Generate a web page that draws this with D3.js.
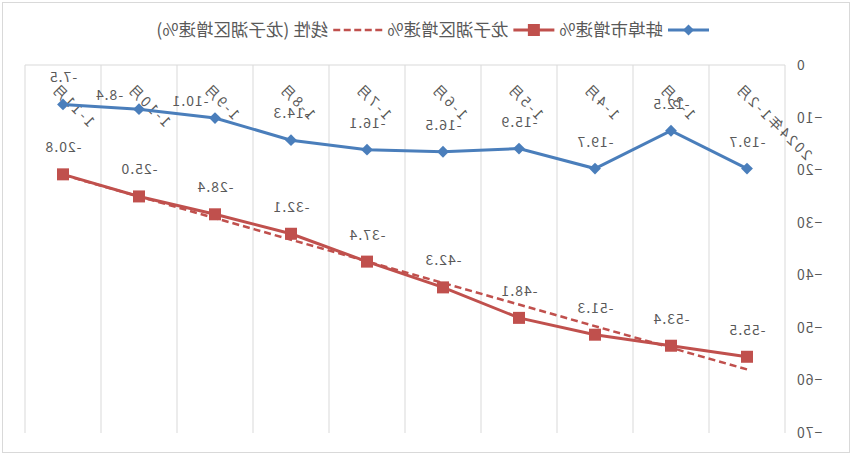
<!DOCTYPE html>
<html>
<head>
<meta charset="utf-8">
<script src="https://cdn.jsdelivr.net/npm/d3@7"></script>
<style>
  body { margin: 0; background: #fff; }
  svg { display: block; font-family: "Noto Sans CJK SC", "Noto Sans", sans-serif; }
</style>
</head>
<body>
<div id="chart"></div>
<script>
const categories = ["2024年1-2月", "1-3月", "1-4月", "1-5月", "1-6月", "1-7月", "1-8月", "1-9月", "1-10月", "1-11月"];
const bengbu = [-19.7, -12.5, -19.7, -15.9, -16.5, -16.1, -14.3, -10.1, -8.4, -7.5];
const longzihu = [-55.5, -53.4, -51.3, -48.1, -42.3, -37.4, -32.1, -28.4, -25.0, -20.8];
// linear trendline ends (first and last category)
const trendEnds = [-57.9, -20.9];
const yTicks = [0, -10, -20, -30, -40, -50, -60, -70];
const seriesNames = ["蚌埠市增速%", "龙子湖区增速%", "线性 (龙子湖区增速%)"];

const W = 852, H = 456;
const blue = "#4a7ebb", red = "#c0504d", grey = "#595959", grid = "#d9d9d9";
const plot = { left: 67, right: 827, top: 65, bottom: 433 };

const svg = d3.select("#chart").append("svg")
  .attr("width", W)
  .attr("height", H);

// the reference is a mirror image, so the whole drawing is flipped
const root = svg.append("g")
  .attr("transform", `translate(${W},0) scale(-1,1)`);

root.append("rect")
  .attr("x", 2.5).attr("y", 2.5)
  .attr("width", W - 5).attr("height", H - 6)
  .attr("fill", "#fff")
  .attr("stroke", grid);

const x = d3.scaleBand()
  .domain(categories)
  .range([plot.left, plot.right]);

const y = d3.scaleLinear()
  .domain([-70, 0])
  .range([plot.bottom, plot.top]);

const cx = d => x(d) + x.bandwidth() / 2;

// vertical gridlines at category boundaries
const bounds = categories.map(c => x(c)).concat([plot.right]);
root.append("g").selectAll("line")
  .data(bounds)
  .join("line")
  .attr("x1", d => d).attr("x2", d => d)
  .attr("y1", plot.top).attr("y2", plot.bottom)
  .attr("stroke", grid);

// category axis line at 0
root.append("line")
  .attr("x1", plot.left).attr("x2", plot.right)
  .attr("y1", y(0)).attr("y2", y(0))
  .attr("stroke", grid);

// y axis labels
const yAxis = root.append("g")
  .attr("transform", `translate(${plot.left},0)`)
  .call(d3.axisLeft(y).tickValues(yTicks).tickSize(0).tickPadding(11).tickFormat(d3.format("d")));
yAxis.select(".domain").remove();
yAxis.selectAll("text")
  .attr("fill", grey)
  .style("font-size", "14px")
  .style("letter-spacing", "1px")
  .style("font-family", "\"Noto Sans CJK SC\", sans-serif");

// rotated category labels below the top axis
root.append("g").selectAll("text")
  .data(categories)
  .join("text")
  .attr("transform", d => `translate(${cx(d) + 13},${plot.top + 24}) rotate(-45)`)
  .attr("text-anchor", "end")
  .attr("fill", grey)
  .style("font-size", "14px")
  .style("letter-spacing", "2.5px")
  .text(d => d);

// trendline
root.append("line")
  .attr("x1", cx(categories[0]))
  .attr("y1", y(trendEnds[0]))
  .attr("x2", cx(categories[categories.length - 1]))
  .attr("y2", y(trendEnds[1]))
  .attr("stroke", red)
  .attr("stroke-width", 2.5)
  .attr("stroke-dasharray", "7,4");

const line = d3.line()
  .x(d => cx(d.cat))
  .y(d => y(d.v));

const bluePts = categories.map((c, i) => ({ cat: c, v: bengbu[i] }));
const redPts = categories.map((c, i) => ({ cat: c, v: longzihu[i] }));

root.append("path")
  .attr("d", line(redPts))
  .attr("fill", "none")
  .attr("stroke", red)
  .attr("stroke-width", 3);

root.append("g").selectAll("rect")
  .data(redPts)
  .join("rect")
  .attr("x", d => cx(d.cat) - 6)
  .attr("y", d => y(d.v) - 6)
  .attr("width", 12).attr("height", 12)
  .attr("fill", red);

root.append("path")
  .attr("d", line(bluePts))
  .attr("fill", "none")
  .attr("stroke", blue)
  .attr("stroke-width", 3);

root.append("g").selectAll("path")
  .data(bluePts)
  .join("path")
  .attr("transform", d => `translate(${cx(d.cat)},${y(d.v)}) rotate(45)`)
  .attr("d", d3.symbol().type(d3.symbolSquare).size(70))
  .attr("fill", blue);

// data labels; two blue ones sit beside their point to clear the axis labels
const nudge = { 7: [25, -12], 8: [30, -9] };
root.append("g").selectAll("text")
  .data(bluePts)
  .join("text")
  .attr("x", (d, i) => cx(d.cat) + (nudge[i] ? nudge[i][0] : 0))
  .attr("y", (d, i) => y(d.v) + (nudge[i] ? nudge[i][1] : -22))
  .attr("text-anchor", "middle")
  .attr("fill", grey)
  .style("font-size", "14px")
  .style("letter-spacing", "1px")
  .text(d => d.v.toFixed(1));

root.append("g").selectAll("text")
  .data(redPts)
  .join("text")
  .attr("x", d => cx(d.cat))
  .attr("y", d => y(d.v) - 22)
  .attr("text-anchor", "middle")
  .attr("fill", grey)
  .style("font-size", "14px")
  .style("letter-spacing", "1px")
  .text(d => d.v.toFixed(1));

// legend
const legend = root.append("g").attr("transform", "translate(0,30)");
const items = [
  { name: seriesNames[0], color: blue, marker: "diamond" },
  { name: seriesNames[1], color: red, marker: "square" },
  { name: seriesNames[2], color: red, marker: "dash" }
];
let lx = 143;
items.forEach(it => {
  const g = legend.append("g").attr("transform", `translate(${lx},0)`);
  g.append("line")
    .attr("x1", 0).attr("x2", it.marker === "dash" ? 50 : 41)
    .attr("stroke", it.color)
    .attr("stroke-width", it.marker === "dash" ? 2.5 : 3)
    .attr("stroke-dasharray", it.marker === "dash" ? "7,3.5" : null);
  if (it.marker === "diamond") {
    g.append("path")
      .attr("transform", "translate(20.5,0) rotate(45)")
      .attr("d", d3.symbol().type(d3.symbolSquare).size(60))
      .attr("fill", it.color);
  } else if (it.marker === "square") {
    g.append("rect")
      .attr("x", 14.5).attr("y", -6)
      .attr("width", 12).attr("height", 12)
      .attr("fill", it.color);
  }
  const tx = it.marker === "dash" ? 54 : 46;
  const t = g.append("text")
    .attr("x", tx)
    .attr("dy", "0.35em")
    .attr("fill", grey)
    .style("font-size", "17.5px")
    .text(it.name);
  lx += tx + t.node().getComputedTextLength() + 5;
});
</script>
</body>
</html>
